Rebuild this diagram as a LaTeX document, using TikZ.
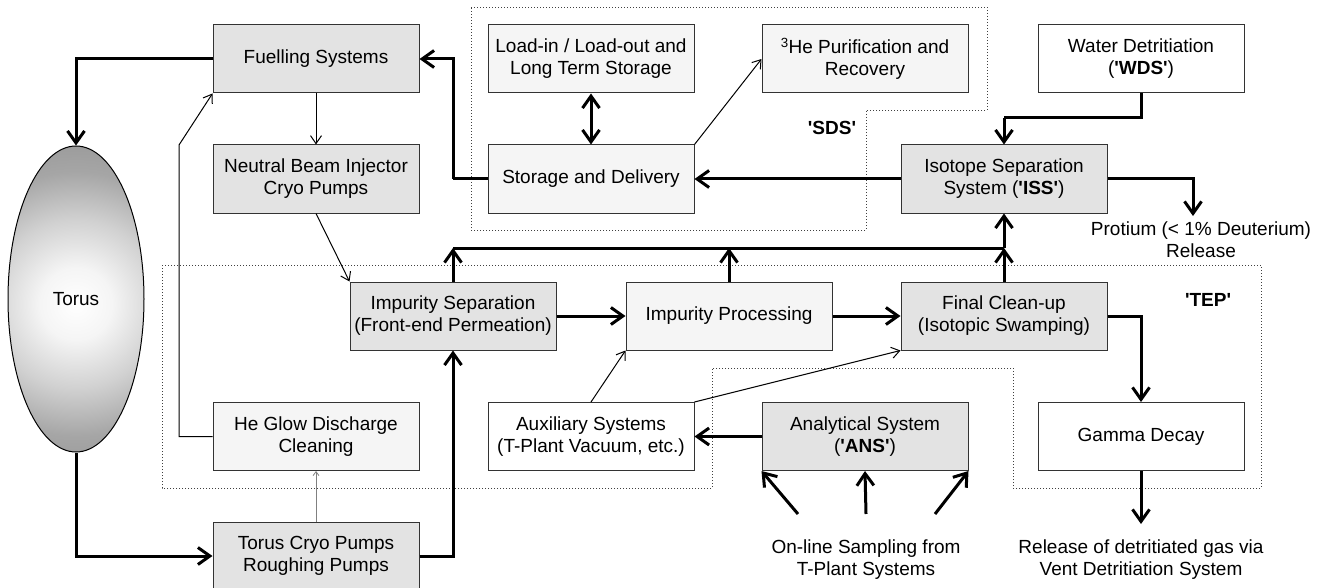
\documentclass[tikz,border=0pt]{standalone}
\usepackage{fontspec}
\setmainfont{Liberation Sans}
\usetikzlibrary{arrows.meta,shapes.geometric}
\pgfdeclareradialshading{torusshade}{\pgfpoint{0bp}{0bp}}{color(0bp)=(white); color(3bp)=(white!96!black); color(7bp)=(black!18); color(11bp)=(black!35); color(25bp)=(black!58); color(50bp)=(black!58)}
\newcommand{\qq}{\textquotesingle}
\begin{document}
\begin{tikzpicture}[x=1pt,y=-1pt,
  txt/.style={font=\fontsize{19}{22}\selectfont, align=center, inner sep=0pt},
  box/.style={txt, draw=black!80, line width=1pt, minimum width=206pt, minimum height=68pt},
  gbox/.style={box, fill=black!11},
  lbox/.style={box, fill=black!4},
  wbox/.style={box, fill=white},
  thkline/.style={line width=3pt},
  thkarr/.style={line width=3pt, -{Straight Barb[length=12pt,width=17pt]}},
  thnarr/.style={line width=1pt, -{Straight Barb[length=8pt,width=11pt]}},
  region/.style={line width=0.9pt, black!75, dash pattern=on 1pt off 2pt}]
\useasboundingbox (0,0) rectangle (1327,588);

% dotted regions
\draw[region] (471,7) -- (987,7) -- (987,110) -- (866,110) -- (866,230) -- (471,230) -- cycle;
\draw[region] (162,265) -- (1261,265) -- (1261,488) -- (1013,488) -- (1013,368) -- (712,368) -- (712,488) -- (162,488) -- cycle;
\node[txt, font=\fontsize{19}{22}\selectfont\bfseries] (sds) at (832,128) {\qq SDS\qq};
\node[txt, font=\fontsize{19}{22}\selectfont\bfseries] (tep) at (1208,300) {\qq TEP\qq};

% torus
\begin{scope}
\clip (76,299) ellipse [x radius=68pt, y radius=153pt];
\shade[shading=torusshade] (76,304) circle [radius=300pt];
\end{scope}
\node[txt, draw, line width=1pt, ellipse, minimum width=136pt, minimum height=306pt] (torus) at (76,299) {Torus};

% boxes
\node[gbox] (fuel) at (316,59) {Fuelling Systems};
\node[gbox] (nbi) at (316,179) {Neutral Beam Injector\\Cryo Pumps};
\node[lbox] (load) at (591,59) {Load-in / Load-out and\\Long Term Storage};
\node[lbox] (stor) at (591,179) {Storage and Delivery};
\node[lbox] (he3) at (865,59) {\textsuperscript{3}He Purification and\\Recovery};
\node[wbox] (wds) at (1141,59) {Water Detritiation\\(\textbf{\qq WDS\qq})};
\node[gbox] (iss) at (1004,179) {Isotope Separation\\System (\textbf{\qq ISS\qq})};
\node[gbox] (imps) at (453,316) {Impurity Separation\\(Front-end Permeation)};
\node[lbox] (impp) at (729,316) {Impurity Processing};
\node[gbox] (final) at (1004,316) {Final Clean-up\\(Isotopic Swamping)};
\node[lbox] (hegl) at (316,436.5) {He Glow Discharge\\Cleaning};
\node[wbox] (aux) at (591,436.5) {Auxiliary Systems\\(T-Plant Vacuum, etc.)};
\node[gbox] (ans) at (865,436.5) {Analytical System\\(\textbf{\qq ANS\qq})};
\node[wbox] (gamma) at (1141,436.5) {Gamma Decay};
\node[gbox] (tcp) at (316,556) {Torus Cryo Pumps\\Roughing Pumps};

% free text
\node[txt, anchor=north] (prot) at (1201,222) {Protium (< 1\% Deuterium)\\Release};
\node[txt, anchor=north] (samp) at (866,540) {On-line Sampling from\\T-Plant Systems};
\node[txt, anchor=north] (rel) at (1141,540) {Release of detritiated gas via\\Vent Detritiation System};

% helper coordinates
\coordinate (c1) at (179,145);
\coordinate (bus1) at (453,248);
\coordinate (bus2) at (729,248);
\coordinate (bus3) at (1004,248);
\coordinate (w1) at (1004,118);
\coordinate (s1) at (453,179);
\coordinate (protin) at (1193,216);
\coordinate (relin) at (1141,524);
\coordinate (sa1) at (798,514);
\coordinate (sa2) at (866,514);
\coordinate (sa3) at (935,514);

% connectors
\draw[thkarr] (fuel.west) -| (torus.north);
\draw[thnarr] (fuel.south) -- (nbi.north);
\draw[thnarr] (hegl.west) -| (c1) -- (fuel.south west);
\draw[thnarr] (nbi.south) -- (imps.north west);
\draw[thkarr] (torus.south) |- (tcp.west);
\draw[line width=0.8pt, black!50, -{Straight Barb[length=4pt,width=6pt]}] (tcp.north) -- (hegl.south);
\draw[thkarr] (tcp.east) -| (imps.south);
\draw[thkline] (bus1) -- (bus3);
\draw[thkarr] (imps.north) -- (bus1);
\draw[thkarr] (impp.north) -- (bus2);
\draw[thkarr] (final.north) -- (bus3);
\draw[thkarr] (bus3) -- (iss.south);
\draw[thkarr] (imps.east) -- (impp.west);
\draw[thkarr] (impp.east) -- (final.west);
\draw[thnarr] (aux.north) -- (impp.south west);
\draw[thnarr] (aux.north east) -- (final.south west);
\draw[thkarr] (ans.west) -- (aux.east);
\draw[thkarr] (final.east) -| (gamma.north);
\draw[thkarr] (gamma.south) -- (relin);
\draw[thkarr] (sa1) -- (ans.south west);
\draw[thkarr] (sa2) -- (ans.south);
\draw[thkarr] (sa3) -- (ans.south east);
\draw[thkline] (wds.south) |- (w1);
\draw[thkarr] (w1) -- (iss.north);
\draw[thkarr] (iss.west) -- (stor.east);
\draw[thkarr] (iss.east) -| (protin);
\draw[thkline] (stor.west) -- (s1);
\draw[thkarr] (s1) |- (fuel.east);
\draw[line width=3pt, {Straight Barb[length=12pt,width=17pt]}-{Straight Barb[length=12pt,width=17pt]}] (load.south) -- (stor.north);
\draw[thnarr] (stor.north east) -- (he3.west);
\end{tikzpicture}
\end{document}
